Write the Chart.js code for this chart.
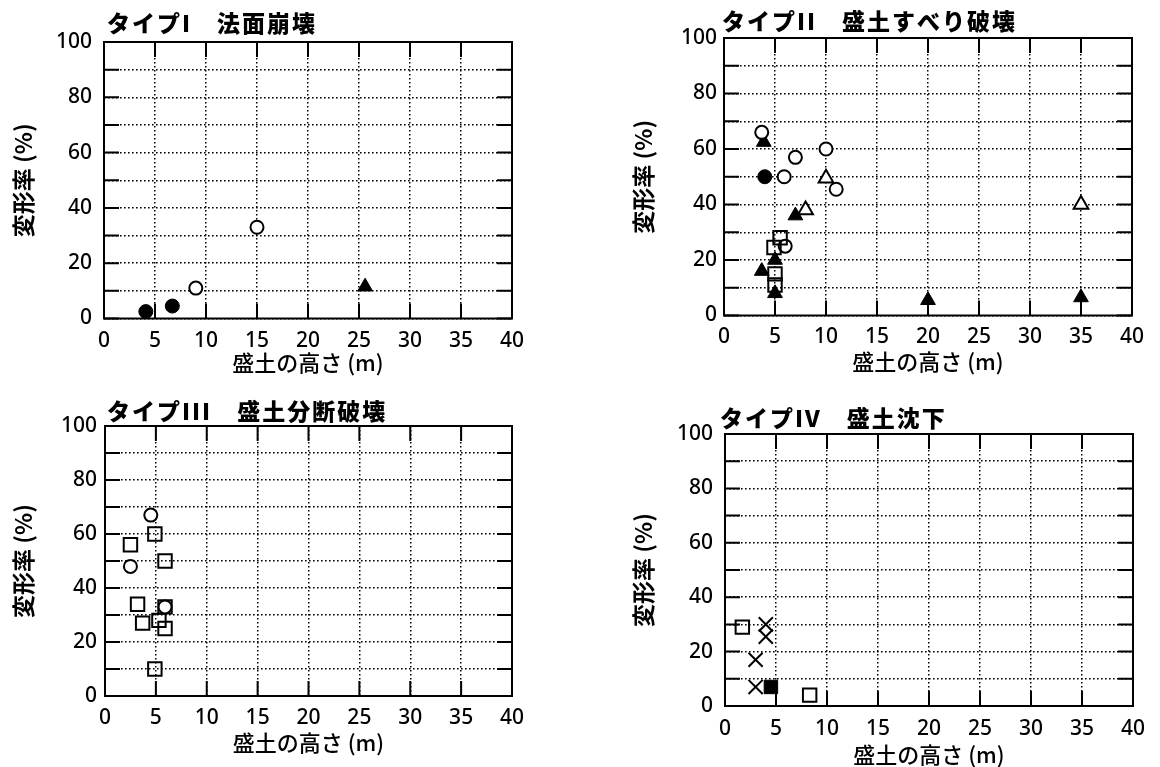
<!DOCTYPE html>
<html lang="ja">
<head>
<meta charset="utf-8">
<title>盛土の高さと変形率</title>
<script src="https://cdn.jsdelivr.net/npm/chart.js@4.4.1/dist/chart.umd.min.js"></script>
<style>
  html, body { margin: 0; padding: 0; background: #fff; }
  body { width: 1160px; height: 767px; position: relative; overflow: hidden; }
  canvas { position: absolute; }
</style>
</head>
<body>
<canvas id="p1" width="580" height="385" style="left:0px;top:0px;width:580px;height:385px"></canvas>
<canvas id="p2" width="580" height="385" style="left:580px;top:0px;width:580px;height:385px"></canvas>
<canvas id="p3" width="580" height="382" style="left:0px;top:385px;width:580px;height:382px"></canvas>
<canvas id="p4" width="580" height="382" style="left:580px;top:385px;width:580px;height:382px"></canvas>
<script>
// axis ranges (same on all four panels)
const xMin = 0, xMax = 40, xStep = 5;
const yMin = 0, yMax = 100, yStep = 10, yLabelStep = 20;

const titles = ['タイプI　法面崩壊', 'タイプII　盛土すべり破壊', 'タイプIII　盛土分断破壊', 'タイプIV　盛土沈下'];
const xTitle = '盛土の高さ (m)';
const yTitle = '変形率 (%)';

// タイプI 法面崩壊
const t1FilledCircleX = [4.1, 6.7];
const t1FilledCircleY = [2.5, 4.5];
const t1OpenCircleX = [9, 15];
const t1OpenCircleY = [11, 33];
const t1FilledTriX = [25.6];
const t1FilledTriY = [11.5];

// タイプII 盛土すべり破壊
const t2OpenCircleX = [3.7, 7, 10, 5.9, 11, 6];
const t2OpenCircleY = [66, 57, 60, 50, 45.5, 25];
const t2FilledCircleX = [4];
const t2FilledCircleY = [50];
const t2FilledTriX = [3.9, 7, 5, 3.7, 5, 20, 35];
const t2FilledTriY = [62.5, 36, 20, 16, 8, 5.5, 6.5];
const t2OpenTriX = [10, 8, 35];
const t2OpenTriY = [49.5, 38, 40];
const t2OpenSquareX = [5.5, 4.9, 5, 5];
const t2OpenSquareY = [28, 24.5, 15, 11];

// タイプIII 盛土分断破壊
const t3OpenCircleX = [4.5, 2.5, 5.9];
const t3OpenCircleY = [67, 48, 33];
const t3OpenSquareX = [4.9, 2.5, 5.9, 3.2, 5.9, 3.7, 5.3, 5.9, 4.9];
const t3OpenSquareY = [60, 56, 50, 34, 33, 27, 28, 25, 10];

// タイプIV 盛土沈下
const t4OpenSquareX = [1.7, 8.3];
const t4OpenSquareY = [29, 4];
const t4CrossX = [4, 4, 3, 3];
const t4CrossY = [30, 25.5, 17, 7];
const t4FilledSquareX = [4.5];
const t4FilledSquareY = [7];

const markers = {
  openCircle:   { pointStyle: 'circle',   pointRadius: 6.5, pointBackgroundColor: '#fff', pointBorderColor: '#000', pointBorderWidth: 2 },
  filledCircle: { pointStyle: 'circle',   pointRadius: 7,   pointBackgroundColor: '#000', pointBorderColor: '#000', pointBorderWidth: 1 },
  filledTri:    { pointStyle: 'triangle', pointRadius: 8.5, pointBackgroundColor: '#000', pointBorderColor: '#000', pointBorderWidth: 1 },
  openTri:      { pointStyle: 'triangle', pointRadius: 8.5, pointBackgroundColor: '#fff', pointBorderColor: '#000', pointBorderWidth: 2 },
  openSquare:   { pointStyle: 'rect',     pointRadius: 9.5, pointBackgroundColor: 'rgba(255,255,255,0)', pointBorderColor: '#000', pointBorderWidth: 2 },
  filledSquare: { pointStyle: 'rect',     pointRadius: 9.5, pointBackgroundColor: '#000', pointBorderColor: '#000', pointBorderWidth: 1 },
  cross:        { pointStyle: 'crossRot', pointRadius: 10,  pointBackgroundColor: '#000', pointBorderColor: '#000', pointBorderWidth: 2 }
};

// layout of each panel inside its canvas
const boxes = [
  { padTop: 42, padRight: 68, yWidth: 104, xHeight: 66.5, yTickPad: 12, yTitlePad: 9,  xTickPad: 9.5, xTitlePad: 9,  titleX: 107, titleY: 23 },
  { padTop: 38, padRight: 28, yWidth: 144, xHeight: 69.5, yTickPad: 7,  yTitlePad: 49, xTickPad: 8.5, xTitlePad: 10, titleX: 142, titleY: 21 },
  { padTop: 41, padRight: 68, yWidth: 105, xHeight: 71,   yTickPad: 8,  yTitlePad: 9,  xTickPad: 9,   xTitlePad: 11, titleX: 107, titleY: 26 },
  { padTop: 49, padRight: 27, yWidth: 145, xHeight: 61,   yTickPad: 12, yTitlePad: 49, xTickPad: 10,  xTitlePad: -1, titleX: 140, titleY: 33 }
];

const pts = (xs, ys) => xs.map((x, i) => ({ x: x, y: ys[i] }));

const TICK_LEN = 15;
const framePlugin = {
  id: 'frame',
  beforeDatasetsDraw(chart) {
    const { ctx, chartArea: a, scales } = chart;
    ctx.save();
    ctx.strokeStyle = '#000';
    ctx.lineWidth = 2;
    ctx.strokeRect(a.left, a.top, a.right - a.left, a.bottom - a.top);
    ctx.beginPath();
    scales.y.ticks.forEach(t => {
      const py = scales.y.getPixelForValue(t.value);
      ctx.moveTo(a.left, py); ctx.lineTo(a.left + TICK_LEN, py);
      ctx.moveTo(a.right, py); ctx.lineTo(a.right - TICK_LEN, py);
    });
    scales.x.ticks.forEach(t => {
      const px = scales.x.getPixelForValue(t.value);
      ctx.moveTo(px, a.bottom); ctx.lineTo(px, a.bottom - TICK_LEN);
      ctx.moveTo(px, a.top); ctx.lineTo(px, a.top + TICK_LEN);
    });
    ctx.stroke();
    ctx.restore();
  },
  afterDraw(chart, args, opts) {
    const ctx = chart.ctx;
    ctx.save();
    ctx.fillStyle = '#000';
    ctx.font = '900 23px "Noto Sans CJK JP"';
    ctx.letterSpacing = '2px';
    ctx.textBaseline = 'middle';
    ctx.textAlign = 'left';
    ctx.fillText(opts.text, opts.x, opts.y);
    ctx.restore();
  }
};

const tickFont = { family: '"Noto Sans", sans-serif', size: 21, weight: '500', lineHeight: 1.2 };

function makePanel(id, n, sets) {
  const b = boxes[n];
  new Chart(document.getElementById(id), {
    type: 'scatter',
    data: {
      datasets: sets.map(s => Object.assign({ data: pts(s[1], s[2]), showLine: false }, markers[s[0]]))
    },
    options: {
      responsive: false,
      animation: false,
      events: [],
      layout: { padding: { top: b.padTop, right: b.padRight, left: 0, bottom: 0 } },
      plugins: {
        legend: { display: false },
        tooltip: { enabled: false },
        frame: { text: titles[n], x: b.titleX, y: b.titleY }
      },
      scales: {
        x: {
          type: 'linear', min: xMin, max: xMax,
          ticks: { stepSize: xStep, autoSkip: false, maxRotation: 0, color: '#000', font: tickFont, padding: b.xTickPad },
          grid: { color: '#000', lineWidth: 1.5, drawTicks: false },
          border: { display: false, dash: [1.6, 2.4] },
          title: { display: true, text: xTitle, color: '#000', font: { family: '"Noto Sans CJK JP"', size: 22, weight: '500', lineHeight: 1.2 }, padding: { top: 0, bottom: b.xTitlePad } },
          afterFit(s) { s.height = b.xHeight; }
        },
        y: {
          type: 'linear', min: yMin, max: yMax,
          ticks: { stepSize: yStep, autoSkip: false, color: '#000', font: tickFont, padding: b.yTickPad,
                   callback: v => (v % yLabelStep === 0 ? v : '') },
          grid: { color: '#000', lineWidth: 1.5, drawTicks: false },
          border: { display: false, dash: [1.6, 2.4] },
          title: { display: true, text: yTitle, color: '#000', font: { family: '"Noto Sans CJK JP"', size: 23, weight: 'bold', lineHeight: 1.2 }, padding: { top: b.yTitlePad, bottom: 0 } },
          afterFit(s) { s.width = b.yWidth; }
        }
      }
    },
    plugins: [framePlugin]
  });
}

makePanel('p1', 0, [
  ['openCircle', t1OpenCircleX, t1OpenCircleY],
  ['filledCircle', t1FilledCircleX, t1FilledCircleY],
  ['filledTri', t1FilledTriX, t1FilledTriY]
]);
makePanel('p2', 1, [
  ['openSquare', t2OpenSquareX, t2OpenSquareY],
  ['openCircle', t2OpenCircleX, t2OpenCircleY],
  ['filledCircle', t2FilledCircleX, t2FilledCircleY],
  ['openTri', t2OpenTriX, t2OpenTriY],
  ['filledTri', t2FilledTriX, t2FilledTriY]
]);
makePanel('p3', 2, [
  ['openCircle', t3OpenCircleX, t3OpenCircleY],
  ['openSquare', t3OpenSquareX, t3OpenSquareY]
]);
makePanel('p4', 3, [
  ['openSquare', t4OpenSquareX, t4OpenSquareY],
  ['cross', t4CrossX, t4CrossY],
  ['filledSquare', t4FilledSquareX, t4FilledSquareY]
]);
</script>
</body>
</html>
